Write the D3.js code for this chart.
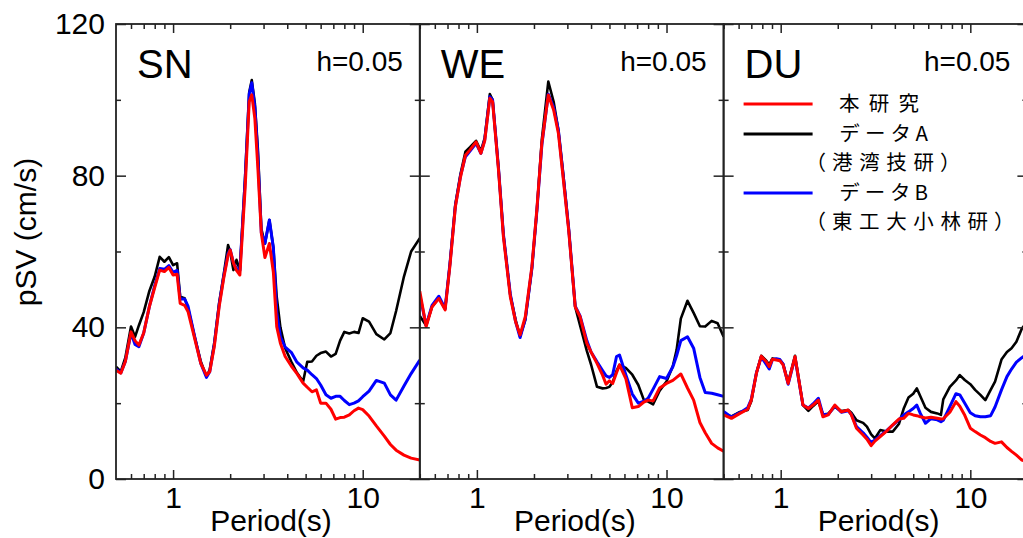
<!DOCTYPE html>
<html><head><meta charset="utf-8">
<script src="https://cdn.jsdelivr.net/npm/d3@7"></script>
<style>
body{margin:0;background:#fff}
svg{display:block}
.lat{font-family:"Liberation Sans",Arial,sans-serif;fill:#000}
.jp{font-family:"Noto Sans CJK JP",sans-serif;fill:#000;font-feature-settings:"palt"}
</style>
</head><body>
<svg id="c" width="1023" height="538"></svg>
<script>
// ---------- data ----------
const panelNames = ["SN", "WE", "DU"];
const dampingLabel = "h=0.05";
const yAxisTitle = "pSV (cm/s)";
const xAxisTitle = "Period(s)";
const yMajorTicks = [0, 40, 80, 120];
const yMinorTicks = [20, 60, 100];
const xMajorTicks = [1, 10];
const xMinorTicks = [0.6, 0.7, 0.8, 0.9, 2, 3, 4, 5, 6, 7, 8, 9, 20];
const seriesNames = ["本研究", "データA", "データB"];
const seriesSubNames = ["", "（港湾技研）", "（東工大小林研）"];

const snPeriods = [0.5,0.53,0.56,0.6,0.63,0.66,0.7,0.75,0.8,0.85,0.9,0.95,1.0,1.05,1.09,1.15,1.2,1.3,1.4,1.5,1.56,1.65,1.75,1.85,1.95,2.0,2.08,2.16,2.25,2.4,2.52,2.6,2.7,2.8,2.92,3.05,3.22,3.38,3.52,3.68,3.9,4.2,4.5,4.85,5.1,5.4,5.7,6.0,6.4,6.8,7.2,7.6,8.0,8.5,9.0,9.5,10,10.8,11.8,13,14,15,16.5,18,20];
const snThisStudy = [28.7,27.9,31,38.8,36.5,35.3,38.5,45.5,50.5,55.1,54.7,55.8,53.8,54.0,46.3,45.8,44.1,37,30.5,27.4,28.3,35,45.5,53,59,60.4,57,55,53.8,77,99.5,101.3,95,82,64.8,58.4,62.1,54.5,40.2,35.8,32.3,29.8,27.8,25.3,24.2,23.0,23.5,20.0,20.0,18.4,15.8,16.2,16.3,16.9,18.0,18.7,18.3,16.6,14.0,11.3,9.1,7.6,6.3,5.5,5.0];
const snDataA = [29.6,28.3,32,40.2,37.5,40.5,44,49.6,53.4,58.6,57.3,58.5,56.4,56.9,48.1,47.7,45,37.5,31,27.0,28.8,36,46.5,54,61.7,60,55.1,57.8,55,80,102,105.2,99,87,66,62.1,68.3,61,48,40,34.5,31,28,25.7,30.9,31,32.5,33.2,33.6,32.3,33,36.5,38.8,38.4,38.8,38.5,42.4,41.5,38.2,36.8,38.5,44.3,53.4,60,63.5];
const snDataB = [29.0,28.0,31,38.5,35.5,34.9,38.5,45.5,51,55.5,55.3,56.3,54.5,55,47.5,47.5,45.5,37.5,30.5,26.8,28.3,35.5,46,53.5,59.5,60.5,57,55.5,55,79,101.5,104.5,98,85,65,62.1,68.3,61,44,37.5,34.8,33.4,30.8,29.3,28.7,27.5,26.5,24.8,22.2,21.3,21.8,21.8,20.7,19.6,20.0,20.6,21.7,23.2,26.0,25.3,22.2,20.8,24.5,27.8,31.4];

const wePeriods = [0.5,0.54,0.58,0.63,0.68,0.72,0.77,0.82,0.87,0.92,0.99,1.05,1.1,1.17,1.21,1.3,1.38,1.5,1.6,1.69,1.8,1.95,2.07,2.2,2.38,2.54,2.69,2.86,3.05,3.3,3.5,3.8,4.0,4.3,4.6,4.8,5.0,5.2,5.45,5.65,6.1,6.6,7.1,7.6,8.0,8.5,9.2,10,10.8,11.3,11.9,12.9,13.9,15,16,17.3,18.6,20];
const weThisStudy = [49.5,40.2,45.4,47.6,44.6,56,71.8,79.7,85.4,86.8,88.9,85.9,89.2,100.4,99.5,81.5,63.9,48.1,41.5,38.0,42.8,56.0,70.9,88.5,101.3,97.3,91.2,78.8,65.5,45.4,42.8,35.8,33.5,30.5,27.4,25.0,25.9,25.2,28,30.1,26.5,18.8,19.1,20.3,20.8,20.6,24.0,25.2,26.0,26.8,27.7,24.0,20.8,14.9,12.2,9.4,8.2,7.3];
const weDataA = [43,40.5,45.4,47.8,44.8,56.5,72.5,80.5,86.3,87.5,89.2,86.5,90,101.5,100,82,64.5,48.5,42,37.6,42,55.5,70.5,89.5,104.8,99.5,92,80,66,45.4,40.5,33.8,30.2,24.3,23.9,24.0,24.3,25.5,28.5,30.1,29.3,27.5,24.8,20.8,20.4,19.7,23.3,25.7,29.8,34,42.3,47.0,43.8,40.3,40.2,41.7,41.1,37.5];
const weDataB = [48.5,40.5,45.8,48.2,45,56.5,72,80,85,86.5,88.5,85.9,89.5,100.8,100,82,64.5,48.8,41.5,37.3,42.2,55.5,70.5,88,101.5,98,92,79.5,66,45.6,43,36.5,33.5,30.9,28.6,27.2,26.8,27.5,32.3,32.7,27.5,22.4,20.0,20.5,21.3,23.7,27.0,26.5,29.6,32.5,36.5,37.5,34.5,26.8,22.8,22.6,22.2,21.8];

const duPeriods = [0.5,0.55,0.61,0.67,0.7,0.745,0.79,0.84,0.87,0.905,0.95,0.99,1.03,1.095,1.19,1.31,1.4,1.48,1.58,1.67,1.78,1.93,2.09,2.27,2.36,2.51,2.72,2.85,3.0,3.14,3.35,3.63,3.9,4.2,4.45,4.72,5.0,5.22,5.45,5.8,6.2,6.7,7.0,7.2,7.8,8.4,8.8,9.35,10,10.6,11.3,12,12.8,13.5,14.6,15.6,16.5,17.5,18.7,20];
const duThisStudy = [16.9,16.0,17.3,18.4,20.8,27.9,32.4,30.9,29.6,31.6,31.4,31.2,30.1,25.2,32.3,19.5,18.6,19.5,20.8,16.4,16.9,19.5,17.7,18.2,16.9,13.4,11.6,10.5,8.8,10.0,11.2,12.7,14.3,15.8,16.0,17.3,16.9,16.7,16.4,16.1,16.3,16.0,15.8,15.9,17.6,20.4,19.2,16.8,13.4,12.5,11.6,10.9,9.9,9.4,9.8,8.3,7.3,6.3,5.0,4.5];
const duDataA = [17.3,16.5,17.7,18.2,20.5,28,32.5,31.2,30.2,31.8,31.6,31.4,30.3,25.5,32.5,19.5,18.0,19.2,20.5,17.0,17.2,19.0,17.9,18.2,17.5,15.5,14.8,13.8,11.8,10.7,12.9,12.5,12.5,14.5,18.5,21.5,22.5,23.9,21.8,18.8,17.7,17.3,16.9,21.0,24.3,26.0,27.4,26.1,25.0,23.5,22.2,20.8,23.5,25.7,31.5,33.5,34.5,36.2,39.7,41.5];
const duDataB = [17.8,16.3,17.5,18.8,21.0,28,32.2,30.2,29.0,31.5,31.7,31.5,30.3,25.0,32.0,19.5,18.7,19.8,21.3,17.0,17.0,19.3,17.6,18.0,17.0,13.8,12.2,11.0,9.6,10.3,11.4,12.8,14.2,15.6,16.9,17.7,18.6,19.5,17.3,14.7,15.9,15.6,15.1,15.5,19.1,22.5,22.2,20.0,17.5,16.7,16.4,16.4,16.7,19.0,23.5,27.0,29.0,30.8,32.0,33];

// ---------- layout ----------
const firstLeft = 116, panelW = 303.8, plotTop = 24, plotBottom = 479;
const colors = ["#ff0000", "#000000", "#0000ff"];
const widths = [3, 2.6, 3];
const drawOrder = [1, 2, 0]; // black, blue, red on top

const panels = [
  {name: panelNames[0], periods: snPeriods, series: [snThisStudy, snDataA, snDataB]},
  {name: panelNames[1], periods: wePeriods, series: [weThisStudy, weDataA, weDataB]},
  {name: panelNames[2], periods: duPeriods, series: [duThisStudy, duDataA, duDataB]}
];

const svg = d3.select("#c");
const yScale = d3.scaleLinear().domain([0, 120]).range([plotBottom, plotTop]);

panels.forEach((p, i) => {
  const L = firstLeft + i * panelW, R = L + panelW;
  const x = d3.scaleLog().domain([0.5, 20]).range([L, R]);
  const g = svg.append("g");

  const clipId = "clip" + i;
  svg.append("clipPath").attr("id", clipId).append("rect")
    .attr("x", L).attr("y", plotTop).attr("width", panelW).attr("height", plotBottom - plotTop);

  const line = d3.line().x(d => x(d[0])).y(d => yScale(d[1]));
  drawOrder.forEach(s => {
    const pts = p.periods.map((t, k) => [t, p.series[s][k]]);
    g.append("path").datum(pts)
      .attr("clip-path", `url(#${clipId})`)
      .attr("fill", "none").attr("stroke", colors[s])
      .attr("stroke-width", widths[s]).attr("stroke-linejoin", "round")
      .attr("d", line);
  });

  const styleAxis = sel => {
    sel.attr("font-family", null).attr("font-size", null);
    sel.select(".domain").remove();
    sel.selectAll(".tick line").attr("stroke", "#222").attr("stroke-width", 1.5);
    sel.selectAll("text").attr("class", "lat").attr("font-size", 30).attr("fill", "#000");
  };
  // bottom
  g.append("g").attr("transform", `translate(0,${plotBottom})`)
    .call(d3.axisBottom(x).tickValues(xMajorTicks).tickFormat(d3.format("d")).tickSizeInner(-9).tickSizeOuter(0).tickPadding(8))
    .call(styleAxis);
  g.append("g").attr("transform", `translate(0,${plotBottom})`)
    .call(d3.axisBottom(x).tickValues(xMinorTicks).tickFormat("").tickSizeInner(-5).tickSizeOuter(0))
    .call(styleAxis);
  // top
  g.append("g").attr("transform", `translate(0,${plotTop})`)
    .call(d3.axisTop(x).tickValues(xMajorTicks).tickFormat("").tickSizeInner(-9).tickSizeOuter(0))
    .call(styleAxis);
  g.append("g").attr("transform", `translate(0,${plotTop})`)
    .call(d3.axisTop(x).tickValues(xMinorTicks).tickFormat("").tickSizeInner(-5).tickSizeOuter(0))
    .call(styleAxis);
  // left
  g.append("g").attr("transform", `translate(${L},0)`)
    .call(d3.axisLeft(yScale).tickValues(yMajorTicks).tickFormat(i === 0 ? d3.format("d") : "").tickSizeInner(-10).tickSizeOuter(0).tickPadding(11))
    .call(styleAxis);
  g.append("g").attr("transform", `translate(${L},0)`)
    .call(d3.axisLeft(yScale).tickValues(yMinorTicks).tickFormat("").tickSizeInner(-5).tickSizeOuter(0))
    .call(styleAxis);
  // right
  g.append("g").attr("transform", `translate(${R},0)`)
    .call(d3.axisRight(yScale).tickValues(yMajorTicks).tickFormat("").tickSizeInner(-10).tickSizeOuter(0))
    .call(styleAxis);
  g.append("g").attr("transform", `translate(${R},0)`)
    .call(d3.axisRight(yScale).tickValues(yMinorTicks).tickFormat("").tickSizeInner(-5).tickSizeOuter(0))
    .call(styleAxis);

  // frame
  g.append("rect").attr("x", L).attr("y", plotTop).attr("width", panelW).attr("height", plotBottom - plotTop)
    .attr("fill", "none").attr("stroke", "#222").attr("stroke-width", 1.8);

  // labels
  g.append("text").attr("class", "lat").attr("x", L + 21).attr("y", 78)
    .attr("font-size", 40).text(p.name);
  g.append("text").attr("class", "lat").attr("x", R - 17).attr("y", 71)
    .attr("text-anchor", "end").attr("font-size", 28).text(dampingLabel);
  g.append("text").attr("class", "lat").attr("x", L + 155).attr("y", 531)
    .attr("text-anchor", "middle").attr("font-size", 30).text(xAxisTitle);

  if (i === 2) {
    const lg = g.append("g");
    const lineY = [104, 134, 193];
    const nameY = [111, 141, 200];
    const nameX = [839, 840, 840];
    const nameLen = [80, 88, 88];
    const subY = [0, 170, 229];
    const subLen = [0, 136, 190];
    [0, 1, 2].forEach(s => {
      lg.append("line").attr("x1", L + 20).attr("x2", L + 89)
        .attr("y1", lineY[s]).attr("y2", lineY[s])
        .attr("stroke", colors[s]).attr("stroke-width", 3);
      lg.append("text").attr("class", "jp").attr("x", nameX[s]).attr("y", nameY[s])
        .attr("font-size", 20.5).attr("textLength", nameLen[s]).attr("lengthAdjust", "spacing")
        .text(seriesNames[s]);
      if (seriesSubNames[s]) {
        lg.append("text").attr("class", "jp").attr("x", 815).attr("y", subY[s])
          .attr("font-size", 20.5).attr("textLength", subLen[s]).attr("lengthAdjust", "spacing")
          .text(seriesSubNames[s]);
      }
    });
  }
});

svg.append("text").attr("class", "lat")
  .attr("transform", "translate(35.5,232) rotate(-90)")
  .attr("text-anchor", "middle").attr("font-size", 30).text(yAxisTitle);
</script>
</body></html>
